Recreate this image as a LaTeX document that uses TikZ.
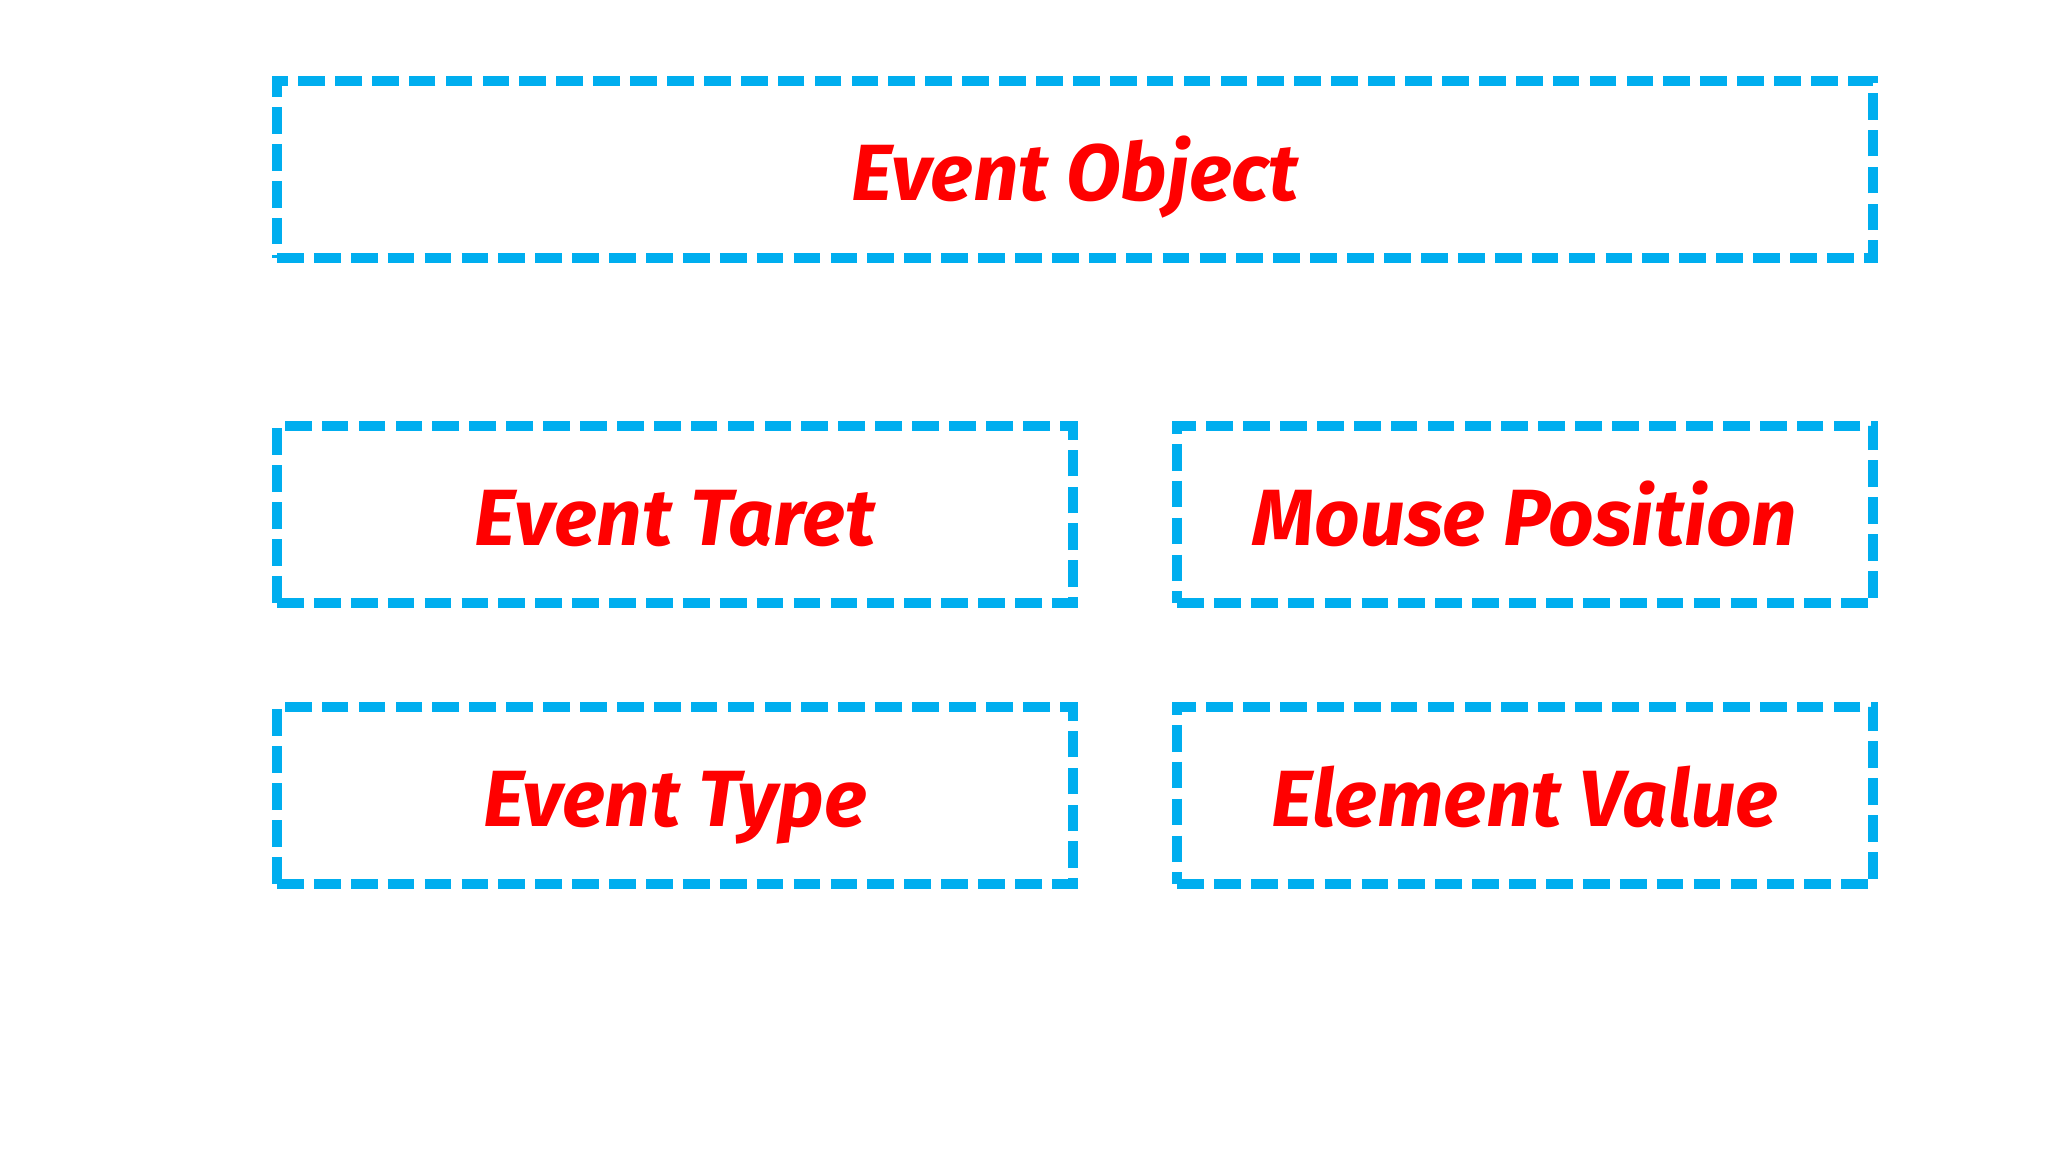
\documentclass[tikz,border=0pt]{standalone}
\usepackage{fontspec}
\setmainfont{Fira Sans}
\usepackage{tikz}
\usepackage{xcolor}
\usetikzlibrary{positioning}
\definecolor{box-cyan}{HTML}{00AEEF}
\definecolor{label-red}{HTML}{FF0000}
\tikzset{
    dash-box/.style = {draw=box-cyan, line width=2.6pt, dash pattern=on 7.6pt off 2.9pt, rectangle, outer sep=0pt, minimum height=1.77cm, text=label-red, text height=17.5pt, text depth=0pt, font=\fontsize{22.7}{27}\selectfont\bfseries\itshape},
}
\begin{document}
\begin{tikzpicture}
\useasboundingbox (0,0) rectangle (20.48,11.52);
\node [dash-box, minimum width=15.96cm] (object) at (10.75,9.825) {Event Object};
\node [dash-box, minimum width=7.96cm] (target) at (6.75,6.375) {Event Taret};
\node [dash-box, minimum width=6.96cm] (mouse) at (15.25,6.375) {Mouse Position};
\node [dash-box, minimum width=7.96cm, below=1.04cm of target] (type) {Event Type};
\node [dash-box, minimum width=6.96cm, below=1.04cm of mouse] (value) {Element Value};
\end{tikzpicture}
\end{document}
